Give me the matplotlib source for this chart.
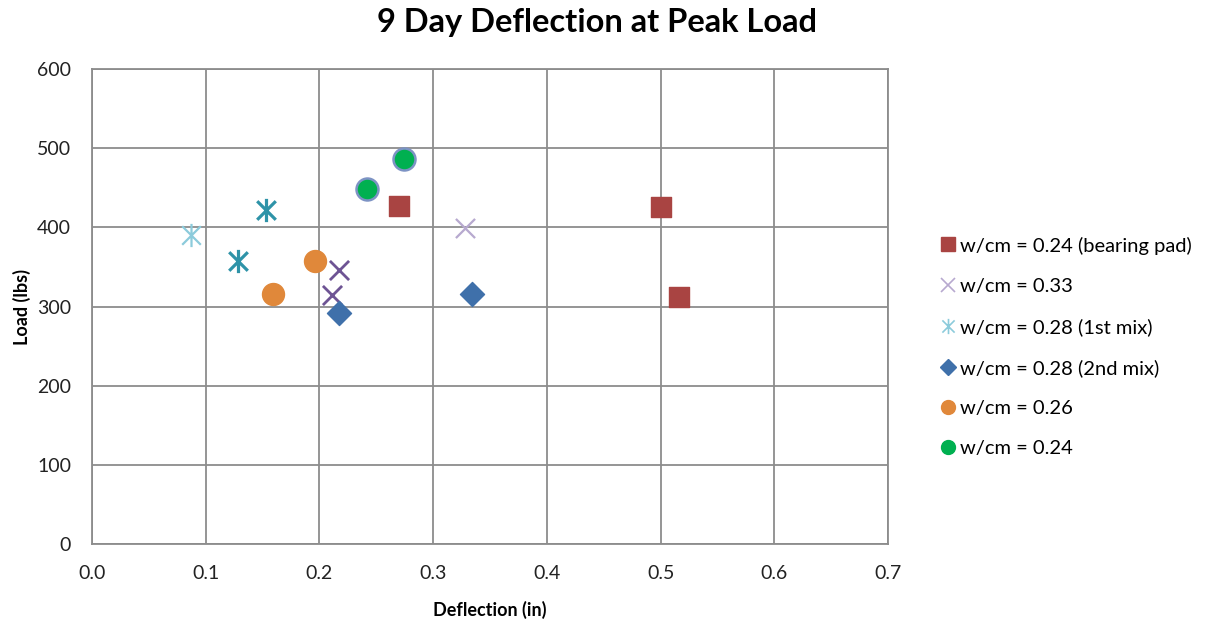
import matplotlib
matplotlib.use("Agg")
import matplotlib.pyplot as plt
from matplotlib.lines import Line2D
from matplotlib.path import Path

plt.rcParams['font.family'] = ['Lato', 'DejaVu Sans']

# Deflection (in) and peak load (lbs) for each mix
pad_x = [0.270, 0.500, 0.516]
pad_y = [427, 426, 312]

w33_x = [0.328, 0.217, 0.211]
w33_y = [399, 346, 315]

mix1_x = [0.087, 0.128, 0.153]
mix1_y = [390, 357, 422]

mix2_x = [0.217, 0.334]
mix2_y = [292, 316]

w26_x = [0.159, 0.196]
w26_y = [316, 357]

w24_x = [0.242, 0.274]
w24_y = [448, 486]

labels = ["w/cm = 0.24 (bearing pad)", "w/cm = 0.33", "w/cm = 0.28 (1st mix)",
          "w/cm = 0.28 (2nd mix)", "w/cm = 0.26", "w/cm = 0.24"]

# asterisk marker: an X crossed by a vertical stroke
d = 0.8
star = Path([(-d, -d), (d, d), (-d, d), (d, -d), (0, -1), (0, 1)],
            [Path.MOVETO, Path.LINETO, Path.MOVETO, Path.LINETO, Path.MOVETO, Path.LINETO])

fig = plt.figure(figsize=(12.09, 6.24), dpi=100)
ax = fig.add_axes([0.0761, 0.1282, 0.6584, 0.7612])

ax.scatter(pad_x, pad_y, marker='s', s=210, color='#A94442', zorder=3)
ax.scatter(w33_x[:1], w33_y[:1], marker='x', s=190, color='#B7A9CF', linewidths=1.6, zorder=3)
ax.scatter(w33_x[1:], w33_y[1:], marker='x', s=190, color='#6E5494', linewidths=2.0, zorder=3)
ax.scatter(mix1_x[:1], mix1_y[:1], marker=star, s=280, color='#8CCBDB', linewidths=1.6, zorder=3)
ax.scatter(mix1_x[1:], mix1_y[1:], marker=star, s=280, color='#2E93A8', linewidths=2.3, zorder=3)
ax.scatter(mix2_x, mix2_y, marker='D', s=150, color='#3F70AA', zorder=3)
ax.scatter(w26_x, w26_y, marker='o', s=250, color='#E0883A', zorder=3)
ax.scatter(w24_x, w24_y, marker='o', s=250, color='#00B050', edgecolors='#7D93C4',
           linewidths=1.8, zorder=3)

ax.set_xlim(0, 0.7)
ax.set_ylim(0, 600)
ax.set_xticks([i / 10 for i in range(8)])
ax.set_xticklabels([f"{i / 10:.1f}" for i in range(8)])
ax.set_yticks(range(0, 601, 100))
ax.grid(True, color='#8C8C8C', linewidth=1.3)
ax.set_axisbelow(True)
for sp in ax.spines.values():
    sp.set_color('#8C8C8C')
    sp.set_linewidth(1.3)
ax.tick_params(axis='both', length=0, labelsize=14, colors='#222222')
ax.tick_params(axis='x', pad=15)
ax.tick_params(axis='y', pad=15)

ax.set_xlabel("Deflection (in)", fontsize=13, fontweight='bold', labelpad=14)
ax.set_ylabel("Load (lbs)", fontsize=13, fontweight='bold', labelpad=4)
fig.suptitle("9 Day Deflection at Peak Load", fontsize=23.5, fontweight='bold',
             x=0.494, y=0.987)

handles = [
    Line2D([], [], ls='none', marker='s', ms=10, color='#A94442'),
    Line2D([], [], ls='none', marker='x', ms=10, mew=1.2, color='#B7A9CF'),
    Line2D([], [], ls='none', marker=star, ms=11, mew=1.2, color='#8CCBDB'),
    Line2D([], [], ls='none', marker='D', ms=8, color='#3F70AA'),
    Line2D([], [], ls='none', marker='o', ms=10, color='#E0883A'),
    Line2D([], [], ls='none', marker='o', ms=10, color='#00B050'),
]
fig.legend(handles, labels, loc='center left', bbox_to_anchor=(0.764, 0.444),
           frameon=False, fontsize=14.5, handlelength=0.6, handletextpad=0.3,
           labelspacing=1.15)

fig.savefig("out.png", dpi=100)
